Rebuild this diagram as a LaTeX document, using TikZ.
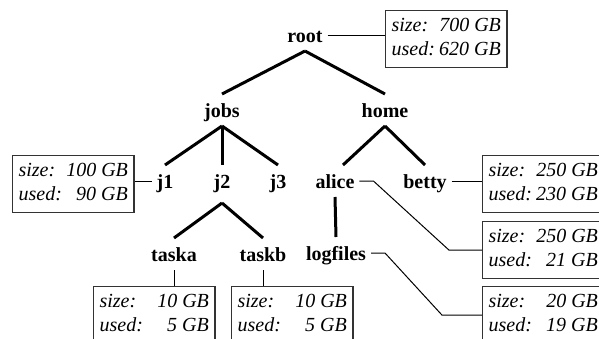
\documentclass[tikz,border=0pt]{standalone}
\usepackage{fontspec}
\setmainfont{Liberation Serif}
\usepackage{tikz}
\usetikzlibrary{calc}

\newcommand{\diskuse}[2]{%
  \begin{tabular}{@{}l@{}r@{}}
    size: & \makebox[33pt][r]{#1 GB}\\
    used: & \makebox[33pt][r]{#2 GB}
  \end{tabular}}

\begin{document}
\begin{tikzpicture}[
  x=0.5pt, y=-0.5pt,
  dir/.style={font=\bfseries, anchor=base, inner xsep=2pt, inner ysep=0pt,
              text height=11pt, text depth=4pt, outer sep=0.5pt},
  info/.style={draw=black!80, line width=0.6pt, anchor=north west,
               font=\itshape, inner xsep=3pt, inner ysep=2.25pt},
  branch/.style={line width=1.5pt},
  link/.style={line width=0.5pt},
]
\useasboundingbox (0,0) rectangle (599,338);
\clip (0,0) rectangle (599,338);

%% Tree
\node[dir] (root)  at (305,42)  {root};
\node[dir] (jobs)  at (222,117) {jobs};
\node[dir] (home)  at (385,117) {home};
\node[dir] (j1)    at (165,188) {j1};
\node[dir] (j2)    at (222,188) {j2};
\node[dir] (j3)    at (278,188) {j3};
\node[dir] (alice) at (335,188) {alice};
\node[dir] (betty) at (425,188) {betty};
\node[dir] (taska) at (174,261) {taska};
\node[dir] (taskb) at (263,261) {taskb};
\node[dir] (logs)  at (336,260) {logfiles};

%% Usage boxes
\node[info] (rootinfo)  at (385,10)  {\diskuse{700}{620}};
\node[info] (j1info)    at (12,155)  {\diskuse{100}{90}};
\node[info] (bettyinfo) at (482,155) {\diskuse{250}{230}};
\node[info] (aliceinfo) at (482,221) {\diskuse{250}{21}};
\node[info] (logsinfo)  at (482,286) {\diskuse{20}{19}};
\node[info] (taskainfo) at (93,286)  {\diskuse{10}{5}};
\node[info] (taskbinfo) at (231,286) {\diskuse{10}{5}};

%% Branches
\draw[branch] (root.south) -- (jobs.north);
\draw[branch] (root.south) -- (home.north);
\draw[branch] (jobs.south) -- (j1.north);
\draw[branch] (jobs.south) -- (j2.north);
\draw[branch] (jobs.south) -- (j3.north);
\draw[branch] (home.south) -- ([xshift=4pt]alice.north);
\draw[branch] (home.south) -- (betty.north);
\draw[branch] ([yshift=-3pt]j2.south) -- (taska.north);
\draw[branch] ([yshift=-3pt]j2.south) -- (taskb.north);
\draw[branch] (alice.south) -- (logs.north);

%% Links to usage boxes
\draw[link] (root.east) -- (root.east -| rootinfo.west);
\draw[link] (j1.west) -- (j1.west -| j1info.east);
\draw[link] (betty.east) -- (betty.east -| bettyinfo.west);
\draw[link] (taska.south) -- (taska.south |- taskainfo.north);
\draw[link] (taskb.south) -- (taskb.south |- taskbinfo.north);
\draw[link] (alice.east) -- ++(14,0) -- ($(aliceinfo.west)+(-33,0)$) -- (aliceinfo.west);
\draw[link] (logs.east) -- ++(14,0) -- ($(logsinfo.west)+(-40,0)$) -- (logsinfo.west);

\end{tikzpicture}
\end{document}
